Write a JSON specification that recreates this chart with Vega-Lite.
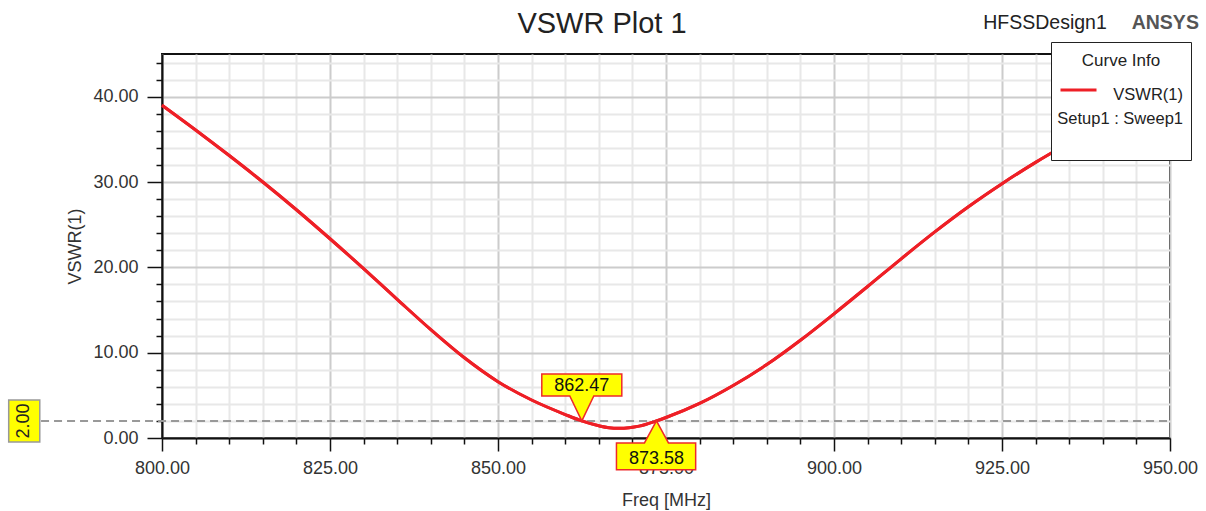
{
  "$schema": "https://vega.github.io/schema/vega-lite/v6.json",
  "width": 1008,
  "height": 384,
  "autosize": "none",
  "padding": {"left": 162, "top": 54, "right": 36, "bottom": 73},
  "background": "white",
  "title": {
    "text": "VSWR Plot 1",
    "fontSize": 29,
    "fontWeight": "normal",
    "color": "#222222",
    "anchor": "middle",
    "dx": -64,
    "offset": -26
  },
  "config": {
    "font": "Liberation Sans",
    "view": {"stroke": "#111111", "strokeWidth": 2},
    "axis": {
      "domainColor": "#111111",
      "domainWidth": 2,
      "tickColor": "#111111",
      "tickWidth": 1.5,
      "gridWidth": 2,
      "labelFontSize": 18,
      "labelColor": "#333333",
      "labelOverlap": false,
      "labelFlush": false,
      "titleFontSize": 18,
      "titleFontWeight": "normal",
      "titleColor": "#333333"
    }
  },
  "datasets": {
    "curve": [
      {"freq": 800, "vswr": 39.0},
      {"freq": 805, "vswr": 36.1},
      {"freq": 810, "vswr": 33.1},
      {"freq": 815, "vswr": 30.0},
      {"freq": 820, "vswr": 26.75},
      {"freq": 825, "vswr": 23.35},
      {"freq": 830, "vswr": 19.85},
      {"freq": 835, "vswr": 16.25},
      {"freq": 840, "vswr": 12.7},
      {"freq": 845, "vswr": 9.4},
      {"freq": 850, "vswr": 6.6},
      {"freq": 855, "vswr": 4.45},
      {"freq": 860, "vswr": 2.75},
      {"freq": 862.47, "vswr": 2.0},
      {"freq": 865, "vswr": 1.43},
      {"freq": 866.5, "vswr": 1.21},
      {"freq": 868, "vswr": 1.15},
      {"freq": 869.5, "vswr": 1.21},
      {"freq": 871, "vswr": 1.39},
      {"freq": 873.58, "vswr": 2.0},
      {"freq": 875, "vswr": 2.4},
      {"freq": 880, "vswr": 4.05},
      {"freq": 885, "vswr": 6.15},
      {"freq": 890, "vswr": 8.6},
      {"freq": 895, "vswr": 11.45},
      {"freq": 900, "vswr": 14.55},
      {"freq": 905, "vswr": 17.75},
      {"freq": 910, "vswr": 21.0},
      {"freq": 915, "vswr": 24.15},
      {"freq": 920, "vswr": 27.1},
      {"freq": 925, "vswr": 29.8},
      {"freq": 930, "vswr": 32.3},
      {"freq": 935, "vswr": 34.6},
      {"freq": 940, "vswr": 36.8},
      {"freq": 945, "vswr": 38.9},
      {"freq": 950, "vswr": 40.9}
    ],
    "markers": [
      {"freq": 862.47, "vswr": 2.0, "side": "above"},
      {"freq": 873.58, "vswr": 2.0, "side": "below"}
    ],
    "one": [{}]
  },
  "layer": [
    {
      "data": {"name": "curve"},
      "mark": {"type": "line", "strokeWidth": 3, "interpolate": "monotone"},
      "encoding": {
        "x": {
          "field": "freq",
          "type": "quantitative",
          "scale": {"domain": [800, 950], "nice": false, "zero": false},
          "axis": {
            "title": "Freq [MHz]",
            "grid": true,
            "tickCount": 200,
            "labelOverlap": false,
            "labelFlush": false,
            "values": [800, 805, 810, 815, 820, 825, 830, 835, 840, 845, 850, 855, 860, 865, 870, 875, 880, 885, 890, 895, 900, 905, 910, 915, 920, 925, 930, 935, 940, 945, 950],
            "labelExpr": "datum.value % 25 === 0 ? format(datum.value, '.2f') : ''",
            "tickSize": {"condition": {"test": "datum.value % 25 === 0", "value": 13}, "value": 6},
            "gridColor": {"condition": {"test": "datum.value % 25 === 0", "value": "#cccccc"}, "value": "#e8e8e8"},
            "labelPadding": 8,
            "titlePadding": 14
          }
        },
        "y": {
          "field": "vswr",
          "type": "quantitative",
          "scale": {"domain": [0, 45], "nice": false, "zero": true},
          "axis": {
            "title": "VSWR(1)",
            "grid": true,
            "tickCount": 200,
            "labelOverlap": false,
            "values": [0, 2, 4, 6, 8, 10, 12, 14, 16, 18, 20, 22, 24, 26, 28, 30, 32, 34, 36, 38, 40, 42, 44],
            "labelExpr": "datum.value % 10 === 0 ? format(datum.value, '.2f') : ''",
            "tickSize": {"condition": {"test": "datum.value % 10 === 0", "value": 15}, "value": 6},
            "gridColor": {"condition": {"test": "datum.value % 10 === 0", "value": "#cccccc"}, "value": "#e8e8e8"},
            "labelPadding": 9,
            "titlePadding": 8
          }
        },
        "color": {
          "datum": "VSWR(1)",
          "type": "nominal",
          "scale": {"range": ["#ee1f26"]},
          "legend": {
            "orient": "none",
            "legendX": 889,
            "legendY": -12,
            "title": "Curve Info",
            "titleFontSize": 17,
            "titleFontWeight": "normal",
            "titleColor": "#222222",
            "titleAnchor": "middle",
            "titlePadding": 17,
            "fillColor": "white",
            "strokeColor": "#222222",
            "padding": 8,
            "clipHeight": 12,
            "symbolType": "stroke",
            "symbolSize": 1296,
            "symbolStrokeWidth": 3,
            "labelFontSize": 16.5,
            "labelColor": "#222222",
            "labelAlign": "right",
            "labelOffset": 85,
            "labelBaseline": "middle",
            "labelExpr": "['VSWR(1)', 'Setup1 : Sweep1', '']",
            "encode": {
              "title": {"update": {"dy": {"value": 3}}},
              "labels": {"update": {"lineHeight": {"value": 24}, "dy": {"value": 5}}}
            }
          }
        }
      }
    },
    {
      "data": {"name": "one"},
      "mark": {"type": "rule", "stroke": "#999999", "strokeWidth": 2, "strokeDash": [8, 5]},
      "encoding": {
        "x": {"datum": 782},
        "x2": {"datum": 950},
        "y": {"datum": 2}
      }
    },
    {
      "data": {"name": "curve"},
      "mark": {"type": "line", "strokeWidth": 3, "interpolate": "monotone", "color": "#ee1f26", "strokeJoin": "round"},
      "encoding": {
        "x": {"field": "freq", "type": "quantitative"},
        "y": {"field": "vswr", "type": "quantitative"}
      }
    },
    {
      "data": {"name": "markers"},
      "transform": [{"filter": "datum.side === 'above'"}],
      "mark": {"type": "point", "shape": "M-1,-1.175L1,-1.175L1,-0.625L0.3,-0.625L0,0L-0.3,-0.625L-1,-0.625Z", "size": 6400, "filled": true, "fill": "#ffff00", "fillOpacity": 1, "opacity": 1, "stroke": "#ee2a2a", "strokeWidth": 1.5},
      "encoding": {
        "x": {"field": "freq", "type": "quantitative"},
        "y": {"field": "vswr", "type": "quantitative"}
      }
    },
    {
      "data": {"name": "markers"},
      "transform": [{"filter": "datum.side === 'below'"}],
      "mark": {"type": "point", "shape": "M-1,1.22L0.98,1.22L0.98,0.55L0.3,0.55L0,0L-0.3,0.55L-1,0.55Z", "size": 6400, "filled": true, "fill": "#ffff00", "fillOpacity": 1, "opacity": 1, "stroke": "#ee2a2a", "strokeWidth": 1.5},
      "encoding": {
        "x": {"field": "freq", "type": "quantitative"},
        "y": {"field": "vswr", "type": "quantitative"}
      }
    },
    {
      "data": {"name": "markers"},
      "transform": [{"filter": "datum.side === 'above'"}],
      "mark": {"type": "text", "fontSize": 18, "color": "#111111", "dy": -35, "baseline": "middle"},
      "encoding": {
        "x": {"field": "freq", "type": "quantitative"},
        "y": {"field": "vswr", "type": "quantitative"},
        "text": {"field": "freq", "type": "quantitative", "format": ".2f"}
      }
    },
    {
      "data": {"name": "markers"},
      "transform": [{"filter": "datum.side === 'below'"}],
      "mark": {"type": "text", "fontSize": 18, "color": "#111111", "dy": 38, "baseline": "middle"},
      "encoding": {
        "x": {"field": "freq", "type": "quantitative"},
        "y": {"field": "vswr", "type": "quantitative"},
        "text": {"field": "freq", "type": "quantitative", "format": ".2f"}
      }
    },
    {
      "data": {"name": "one"},
      "mark": {"type": "point", "shape": "M-0.74,-1L0.74,-1L0.74,1L-0.74,1Z", "size": 1764, "filled": true, "fill": "#ffff00", "fillOpacity": 1, "opacity": 1, "stroke": "#999999", "strokeWidth": 1.5},
      "encoding": {
        "x": {"datum": 779.5},
        "y": {"datum": 2}
      }
    },
    {
      "data": {"name": "one"},
      "mark": {"type": "text", "fontSize": 18, "color": "#222222", "angle": 270, "baseline": "middle", "align": "center"},
      "encoding": {
        "x": {"datum": 779.5},
        "y": {"datum": 2},
        "text": {"datum": 2, "format": ".2f"}
      }
    },
    {
      "data": {"name": "one"},
      "mark": {"type": "text", "fontSize": 19.5, "color": "#222222", "baseline": "middle", "align": "center"},
      "encoding": {
        "x": {"datum": 931.4},
        "y": {"datum": 48.6},
        "text": {"datum": "HFSSDesign1"}
      }
    },
    {
      "data": {"name": "one"},
      "mark": {"type": "text", "fontSize": 19.5, "fontWeight": "bold", "color": "#555555", "baseline": "middle", "align": "center"},
      "encoding": {
        "x": {"datum": 949.3},
        "y": {"datum": 48.6},
        "text": {"datum": "ANSYS"}
      }
    }
  ]
}
